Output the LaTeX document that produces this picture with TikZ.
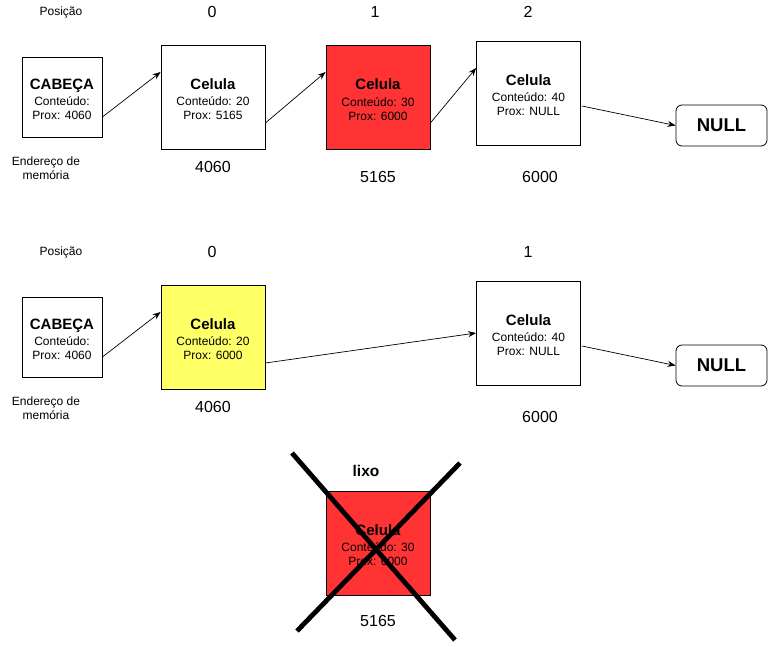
\documentclass[tikz,border=0pt]{standalone}
\usepackage{fontspec}
\setmainfont{Liberation Sans}
\usetikzlibrary{arrows.meta,calc}
\definecolor{redcell}{HTML}{FF3333}
\definecolor{yellowcell}{HTML}{FFFF66}
\tikzset{
  cellbox/.style={draw=black, line width=0.8pt, fill=white, minimum width=104pt, minimum height=104pt,
    inner sep=0pt, align=center, font=\fontsize{12}{13.8}\selectfont},
  headbox/.style={cellbox, minimum width=80pt, minimum height=80pt},
  nullbox/.style={draw=black, line width=0.8pt, rounded corners=6pt, minimum width=91pt, minimum height=41pt,
    inner sep=0pt, font=\fontsize{18.5}{20}\selectfont\bfseries},
  arr/.style={-{Stealth[length=8pt,width=6pt]}, line width=0.7pt},
  small/.style={inner sep=0pt, align=center, font=\fontsize{12}{13.8}\selectfont},
  numlabel/.style={inner sep=0pt, font=\fontsize{16}{18}\selectfont},
  cross/.style={line width=4.8pt, draw=black},
}
\newcommand{\celltext}[2]{{\fontsize{15}{17}\selectfont\bfseries\rule{0pt}{15pt}Celula}\\[3pt]Conteúdo: #1\\Prox: #2}
\newcommand{\headtext}[1]{{\fontsize{15}{17}\selectfont\bfseries\rule{0pt}{15pt}CABEÇA}\\[3pt]Conteúdo:\\Prox: #1}
\begin{document}
\begin{tikzpicture}[x=1pt,y=-1pt]
\useasboundingbox (0,0) rectangle (768,646);
% ---------- row 1
\node[small] (pos1) at (61,12) {Posição};
\node[numlabel] (p10) at (212,12) {0};
\node[numlabel] (p11) at (375,12) {1};
\node[numlabel] (p12) at (528,12) {2};
\node[headbox] (head1) at (62,97) {\headtext{4060}};
\node[cellbox] (c0) at (213,97) {\celltext{20}{5165}};
\node[cellbox, fill=redcell] (c1) at (378,97.5) {\celltext{30}{6000}};
\node[cellbox] (c2) at (528.5,93) {\celltext{40}{NULL}};
\node[nullbox] (null1) at (721.5,125.5) {NULL};
\node[small] (end1) at (46,168) {Endereço de\\memória};
\node[numlabel] (a10) at (213,167) {4060};
\node[numlabel] (a11) at (378,177) {5165};
\node[numlabel] (a12) at (540,177) {6000};
\draw[arr] ($(head1.east)+(0,20)$) -- ($(c0.west)+(0,-25)$);
\draw[arr] ($(c0.east)+(0,26)$) -- ($(c1.west)+(0,-25.5)$);
\draw[arr] ($(c1.east)+(0,25.5)$) -- ($(c2.west)+(0,-25)$);
\draw[arr] ($(c2.east)+(1,13)$) -- (null1.west);
% ---------- row 2
\node[small] (pos2) at (61,252) {Posição};
\node[numlabel] (p20) at (212,252) {0};
\node[numlabel] (p21) at (528,252) {1};
\node[headbox] (head2) at (62,337) {\headtext{4060}};
\node[cellbox, fill=yellowcell] (y0) at (213,337) {\celltext{20}{6000}};
\node[cellbox] (d1) at (528.5,333) {\celltext{40}{NULL}};
\node[nullbox] (null2) at (721.5,365.5) {NULL};
\node[small] (end2) at (46,408) {Endereço de\\memória};
\node[numlabel] (a20) at (213,407) {4060};
\node[numlabel] (a21) at (540,417) {6000};
\draw[arr] ($(head2.east)+(0,20)$) -- ($(y0.west)+(0,-25)$);
\draw[arr] ($(y0.east)+(0,26)$) -- (d1.west);
\draw[arr] ($(d1.east)+(1,13)$) -- (null2.west);
% ---------- garbage
\node[inner sep=0pt, font=\fontsize{15.5}{17}\selectfont\bfseries] (lixo) at (366,471) {lixo};
\node[cellbox, fill=redcell] (g) at (378,543) {\celltext{30}{6000}};
\node[numlabel] (a3) at (378,621) {5165};
\coordinate (x1a) at (292,453);
\coordinate (x1b) at (455,640);
\coordinate (x2a) at (460,463);
\coordinate (x2b) at (297,631);
\draw[cross] (x1a) -- (x1b);
\draw[cross] (x2a) -- (x2b);
\end{tikzpicture}
\end{document}
